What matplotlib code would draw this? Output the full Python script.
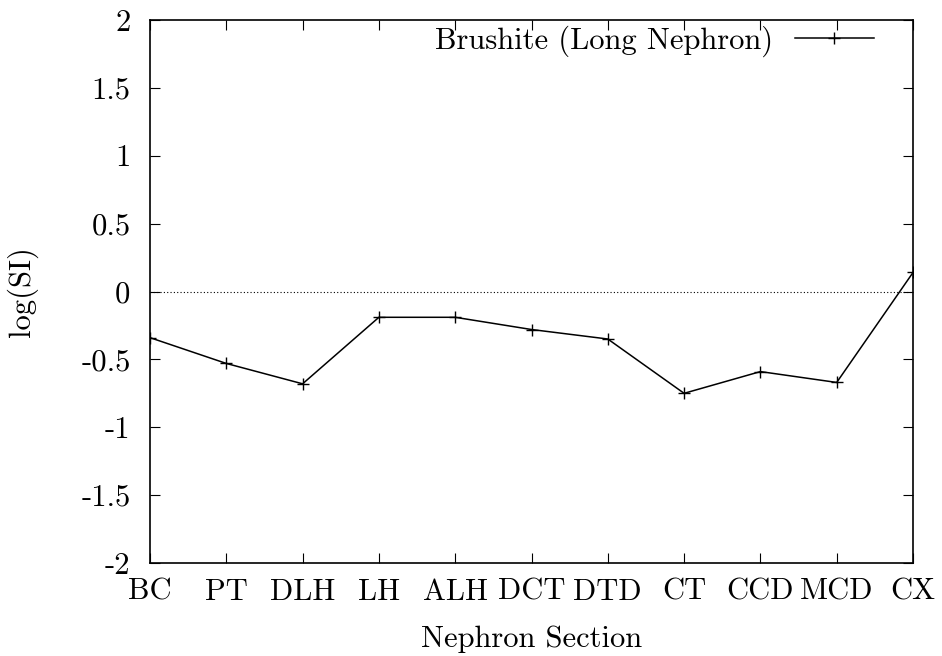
import numpy as np
import matplotlib
matplotlib.use("Agg")
import matplotlib.pyplot as plt

sections = ["BC", "PT", "DLH", "LH", "ALH", "DCT", "DTD", "CT", "CCD", "MCD", "CX"]
log_si = [-0.34, -0.53, -0.68, -0.19, -0.19, -0.28, -0.35, -0.75, -0.59, -0.67, 0.14]
yticks = [-2, -1.5, -1, -0.5, 0, 0.5, 1, 1.5, 2]
ytick_labels = ["-2", "-1.5", "-1", "-0.5", "0", "0.5", "1", "1.5", "2"]
series_label = "Brushite (Long Nephron)"

plt.rcParams["font.family"] = ["cmr10", "DejaVu Serif"]
plt.rcParams["mathtext.fontset"] = "cm"
plt.rcParams["axes.unicode_minus"] = False

fig = plt.figure(figsize=(9.42, 6.56), dpi=100)
ax = fig.add_axes([150 / 942, 93 / 656, 763 / 942, 543 / 656])

x = np.arange(len(sections))
ax.axhline(0, color="black", lw=0.8, ls=(0, (1, 2)), zorder=1)
ax.plot(x, log_si, color="black", lw=1.1, marker="+", ms=9, mew=1.0,
        label=series_label, zorder=3)

ax.set_xlim(0, len(sections) - 1)
ax.set_ylim(-2, 2)
ax.set_xticks(x)
ax.set_xticklabels(sections)
ax.set_yticks(yticks)
ax.set_yticklabels(ytick_labels)

ax.tick_params(direction="in", length=7, width=0.8, top=True, right=True,
               labelsize=22)
ax.tick_params(axis="x", pad=11)
ax.tick_params(axis="y", pad=14)
for s in ax.spines.values():
    s.set_linewidth(1.2)

ax.set_xlabel("Nephron Section", fontsize=22, labelpad=14)
ax.set_ylabel("log(SI)", fontsize=22, labelpad=31)

ax.legend(loc="upper right", frameon=False, markerfirst=False, fontsize=22,
          handlelength=2.6, borderaxespad=0.0, handletextpad=0.7,
          bbox_to_anchor=(0.965, 1.012))

fig.savefig("out.png", dpi=100)
